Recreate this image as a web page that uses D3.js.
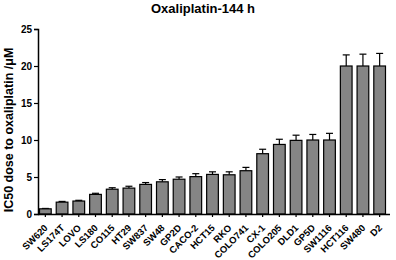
<!DOCTYPE html>
<html>
<head>
<meta charset="utf-8">
<script src="https://cdn.jsdelivr.net/npm/d3@7"></script>
<style>
  body { margin: 0; background: #fff; }
  text { font-family: "Liberation Sans", Arial, sans-serif; }
</style>
</head>
<body>
<div id="chart"></div>
<script>
const width = 396; const height = 260;

const cell_lines = ["SW620", "LS174T", "LOVO", "LS180", "CO115", "HT29", "SW837", "SW48",
    "GP2D", "CACO-2", "HCT15", "RKO", "COLO741", "CX-1", "COLO205", "DLD1", "GP5D",
    "SW1116", "HCT116", "SW480", "D2"];
const ic50 = [0.7, 1.6, 1.75, 2.65, 3.35, 3.5, 4.0, 4.35, 4.7, 5.05, 5.35, 5.3, 5.85,
    8.15, 9.4, 9.95, 10.0, 10.0, 20.0, 20.0, 20.0];
const ic50_err = [0.05, 0.1, 0.1, 0.15, 0.2, 0.25, 0.25, 0.3, 0.3, 0.4, 0.35, 0.4, 0.45,
    0.6, 0.7, 0.7, 0.75, 0.9, 1.5, 1.6, 1.7];
const y_ticks = [0, 5, 10, 15, 20, 25];

const data = cell_lines.map((d, i) => ({name: d, value: ic50[i], err: ic50_err[i]}));

const svg = d3.select("#chart").append("svg")
    .attr("width", width)
    .attr("height", height);

const x_scale = d3.scaleBand()
    .domain(cell_lines)
    .range([37, 388])
    .paddingInner(0.3)
    .paddingOuter(0.15);

const y_scale = d3.scaleLinear()
    .domain([0, 25])
    .range([214, 29]);

// title
svg.append("text")
    .attr("x", 203)
    .attr("y", 13)
    .attr("text-anchor", "middle")
    .attr("font-size", "13px")
    .attr("font-weight", "bold")
    .text("Oxaliplatin-144 h");

// y axis label
svg.append("text")
    .attr("transform", "translate(13,130) rotate(-90)")
    .attr("text-anchor", "middle")
    .attr("font-size", "12.5px")
    .attr("font-weight", "bold")
    .text("IC50 dose to oxaliplatin /\u03bcM");

// error bars (upper only)
const err = svg.append("g").attr("stroke", "#000").attr("stroke-width", 1.2);
err.selectAll("line.v")
    .data(data).enter().append("line")
    .attr("x1", d => x_scale(d.name) + x_scale.bandwidth() / 2)
    .attr("x2", d => x_scale(d.name) + x_scale.bandwidth() / 2)
    .attr("y1", d => y_scale(d.value))
    .attr("y2", d => y_scale(d.value + d.err));
err.selectAll("line.c")
    .data(data).enter().append("line")
    .attr("x1", d => x_scale(d.name) + x_scale.bandwidth() / 2 - 3.5)
    .attr("x2", d => x_scale(d.name) + x_scale.bandwidth() / 2 + 3.5)
    .attr("y1", d => y_scale(d.value + d.err))
    .attr("y2", d => y_scale(d.value + d.err));

// bars
svg.selectAll("rect.bar")
    .data(data).enter().append("rect")
    .attr("class", "bar")
    .attr("x", d => x_scale(d.name))
    .attr("y", d => y_scale(d.value))
    .attr("width", x_scale.bandwidth())
    .attr("height", d => y_scale(0) - y_scale(d.value))
    .attr("fill", "#858585")
    .attr("stroke", "#000")
    .attr("stroke-width", 1.2);

// axes
const y_axis = d3.axisLeft(y_scale).tickValues(y_ticks).tickSize(4).tickPadding(2);
const yG = svg.append("g")
    .attr("transform", "translate(38,0)")
    .call(y_axis);
yG.select(".domain").attr("stroke-width", 1.5);
yG.selectAll(".tick line").attr("stroke-width", 1.2);
yG.selectAll("text")
    .attr("font-size", "10px")
    .attr("font-weight", "bold")
    .attr("font-family", "Liberation Sans, Arial, sans-serif");

const x_axis = d3.axisBottom(x_scale).tickSize(3).tickSizeOuter(0);
const xG = svg.append("g")
    .attr("transform", "translate(0,214)")
    .call(x_axis);
xG.select(".domain").attr("d", "M38,0.5H390").attr("stroke-width", 1.5);
xG.selectAll(".tick line").attr("stroke-width", 1.2);
xG.selectAll("text")
    .attr("font-size", "9.5px")
    .attr("font-weight", "bold")
    .attr("font-family", "Liberation Sans, Arial, sans-serif")
    .attr("text-anchor", "end")
    .attr("x", 0)
    .attr("y", 0)
    .attr("dy", 0)
    .attr("transform", "translate(3,14.5) rotate(-45)");
</script>
</body>
</html>
